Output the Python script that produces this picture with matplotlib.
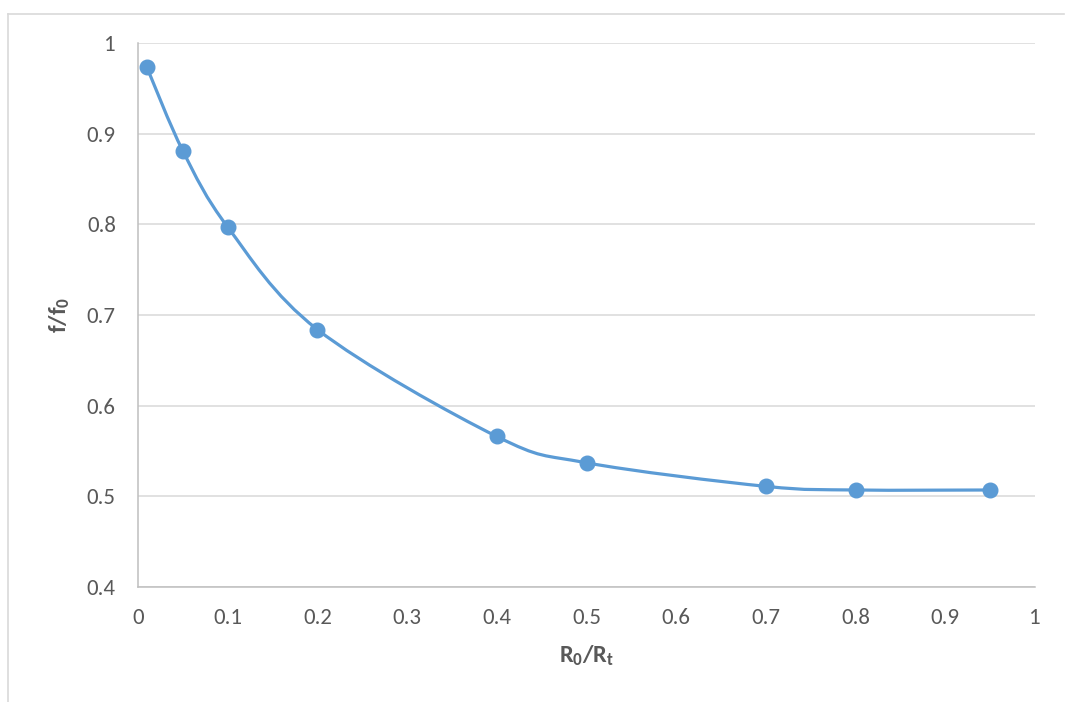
import matplotlib
matplotlib.use("Agg")
import matplotlib.pyplot as plt
from matplotlib.path import Path
from matplotlib.patches import PathPatch
from matplotlib.lines import Line2D
import numpy as np

# Data
ratio_r = [0.01, 0.05, 0.1, 0.2, 0.4, 0.5, 0.7, 0.8, 0.95]
ratio_f = [0.973, 0.881, 0.797, 0.684, 0.566, 0.537, 0.511, 0.507, 0.507]
x_ticks = [0, 0.1, 0.2, 0.3, 0.4, 0.5, 0.6, 0.7, 0.8, 0.9, 1]
x_tick_labels = ["0", "0.1", "0.2", "0.3", "0.4", "0.5", "0.6", "0.7", "0.8", "0.9", "1"]
y_ticks = [0.4, 0.5, 0.6, 0.7, 0.8, 0.9, 1]
y_tick_labels = ["0.4", "0.5", "0.6", "0.7", "0.8", "0.9", "1"]

FAM = 'Carlito'
plt.rcParams['font.family'] = [FAM, 'DejaVu Sans']
plt.rcParams['mathtext.fontset'] = 'custom'
plt.rcParams['mathtext.rm'] = FAM
plt.rcParams['mathtext.it'] = FAM + ':italic'
plt.rcParams['mathtext.bf'] = FAM + ':bold'

LINE = '#5B9BD5'
TXT = '#595959'
GRID = '#D9D9D9'
SPINE = '#BFBFBF'

fig = plt.figure(figsize=(10.65, 7.02), dpi=100)
ax = fig.add_axes([138/1065, 1-587/702, (1035-138)/1065, (587-43)/702])

# outer chart border (partially visible)
fig.add_artist(Line2D([8/1065, 8/1065], [0, 1-13.5/702], transform=fig.transFigure, color=GRID, lw=1.2))
fig.add_artist(Line2D([8/1065, 1064/1065], [1-13.5/702, 1-13.5/702], transform=fig.transFigure, color=GRID, lw=1.2))

# smooth curve (Catmull-Rom style bezier through points)
pts = np.column_stack([ratio_r, ratio_f])
n = len(pts)
verts = [tuple(pts[0])]
codes = [Path.MOVETO]
for i in range(n - 1):
    p0 = pts[i - 1] if i > 0 else pts[i]
    p1 = pts[i]
    p2 = pts[i + 1]
    p3 = pts[i + 2] if i + 2 < n else pts[i + 1]
    c1 = p1 + (p2 - p0) / 6.0
    c2 = p2 - (p3 - p1) / 6.0
    verts += [tuple(c1), tuple(c2), tuple(p2)]
    codes += [Path.CURVE4, Path.CURVE4, Path.CURVE4]
ax.add_patch(PathPatch(Path(verts, codes), facecolor='none', edgecolor=LINE, lw=2.3, zorder=3,
                       capstyle='round', joinstyle='round'))
ax.plot(ratio_r, ratio_f, linestyle='none', marker='o', markersize=10.5, color=LINE, zorder=4)

ax.set_xlim(0, 1)
ax.set_ylim(0.4, 1)
ax.set_xticks(x_ticks)
ax.set_yticks(y_ticks)
ax.set_xticklabels(x_tick_labels, fontsize=16.5, color=TXT)
ax.set_yticklabels(y_tick_labels, fontsize=16.5, color=TXT)
ax.tick_params(axis='both', length=0)
ax.tick_params(axis='x', pad=15)
ax.tick_params(axis='y', pad=16)
ax.grid(axis='y', color=GRID, lw=1.1)
ax.set_axisbelow(True)
for s in ['top', 'right']:
    ax.spines[s].set_visible(False)
for s in ['left', 'bottom']:
    ax.spines[s].set_color(SPINE)
    ax.spines[s].set_linewidth(1.1)

ax.set_xlabel(r'$\mathbf{R}_{\mathbf{0}}\mathbf{/R}_{\mathbf{t}}$', fontsize=17.5, color=TXT, labelpad=11)
ax.set_ylabel(r'$\mathbf{f/f}_{\mathbf{0}}$', fontsize=17.5, color=TXT, labelpad=11)

fig.savefig('out.png', dpi=100)
